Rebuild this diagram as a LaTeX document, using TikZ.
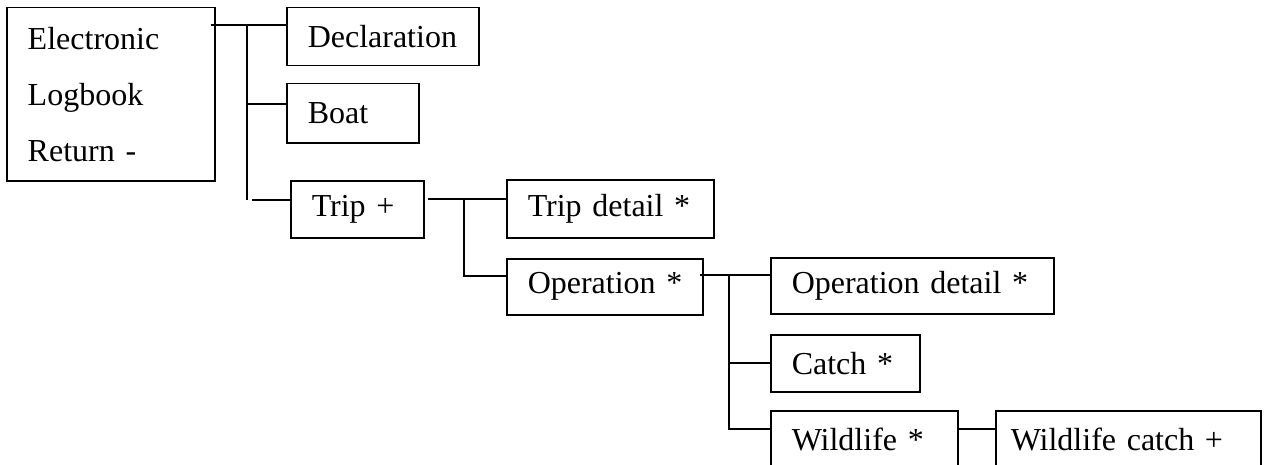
\documentclass[tikz,border=0pt]{standalone}
\usepackage{fontspec}
\setmainfont{Liberation Serif}
\usepackage{tikz}
\usetikzlibrary{positioning}
\tikzstyle{entity} = [
    rectangle,
    anchor=north west,
    align=left,
    inner xsep=0pt,
    inner ysep=0pt,
    draw=black,
    line width=0.75pt,
    font=\fontsize{16}{28}\selectfont
]
\tikzset{
    pad/.style={execute at begin node={\hspace*{#1}}},
    pad/.default=10.5pt
}
\tikzstyle{wire} = [
    line width=0.75pt,
    draw=black
]

\begin{document}
\begin{tikzpicture}[x=0.5pt, y=-0.5pt]
\useasboundingbox (0,0) rectangle (1268,465);

% Nodes
\node (elr) [entity, inner xsep=10.5pt, text width=83pt, minimum height=86.5pt] at (6,7)
{Electronic\\Logbook\\Return -\\[-3pt]};

\node (decl) [entity, pad, text width=96pt, minimum height=29pt] at (286,7) {Declaration};

\node (boat) [entity, pad, text width=66pt, minimum height=29.5pt] at (286,83) {Boat};

\node (trip) [entity, pad, text width=66.5pt, minimum height=28.5pt] at (290,180) {Trip +};

\node (tripd) [entity, pad, text width=103.5pt, minimum height=29pt] at (506,179) {Trip detail *};

\node (oper) [entity, pad, text width=98pt, minimum height=28pt] at (506,258) {Operation *};

\node (operd) [entity, pad, text width=141.5pt, minimum height=28pt] at (770,257) {Operation detail *};

\node (catch) [entity, pad, text width=74.5pt, minimum height=28.5pt] at (770,334) {Catch *};

\node (wild) [entity, pad, text width=93.5pt, minimum height=28.5pt] at (770,410) {Wildlife *};

\node (wildc) [entity, pad=7.5pt, text width=132.5pt, minimum height=28.5pt] at (995,410) {Wildlife catch +};

% Junctions
\coordinate (a1) at (247,25);
\coordinate (a2) at (247,104);
\coordinate (a3) at (247,200);
\coordinate (b1) at (464,199);
\coordinate (b2) at (464,276);
\coordinate (c1) at (729,275);
\coordinate (c2) at (729,363);
\coordinate (c3) at (729,429);

% Lines
\draw [wire] ([xshift=-2.5pt]elr.east |- a1) -- (decl.west |- a1);

\draw [wire] (a1) -- (a3);

\draw [wire] (a2) -- (boat.west |- a2);

\draw [wire] ([xshift=2.5pt]a3) -- (trip.west |- a3);

\draw [wire] ([xshift=1.5pt]trip.east |- b1) -- (tripd.west |- b1);

\draw [wire] (b1) -- (b2) -- (oper.west |- b2);

\draw [wire] ([xshift=-2pt]oper.east |- c1) -- (operd.west |- c1);

\draw [wire] (c1) -- (c3) -- (wild.west |- c3);

\draw [wire] (c2) -- (catch.west |- c2);

\draw [wire] (wild.east |- c3) -- (wildc.west |- c3);

\end{tikzpicture}
\end{document}
